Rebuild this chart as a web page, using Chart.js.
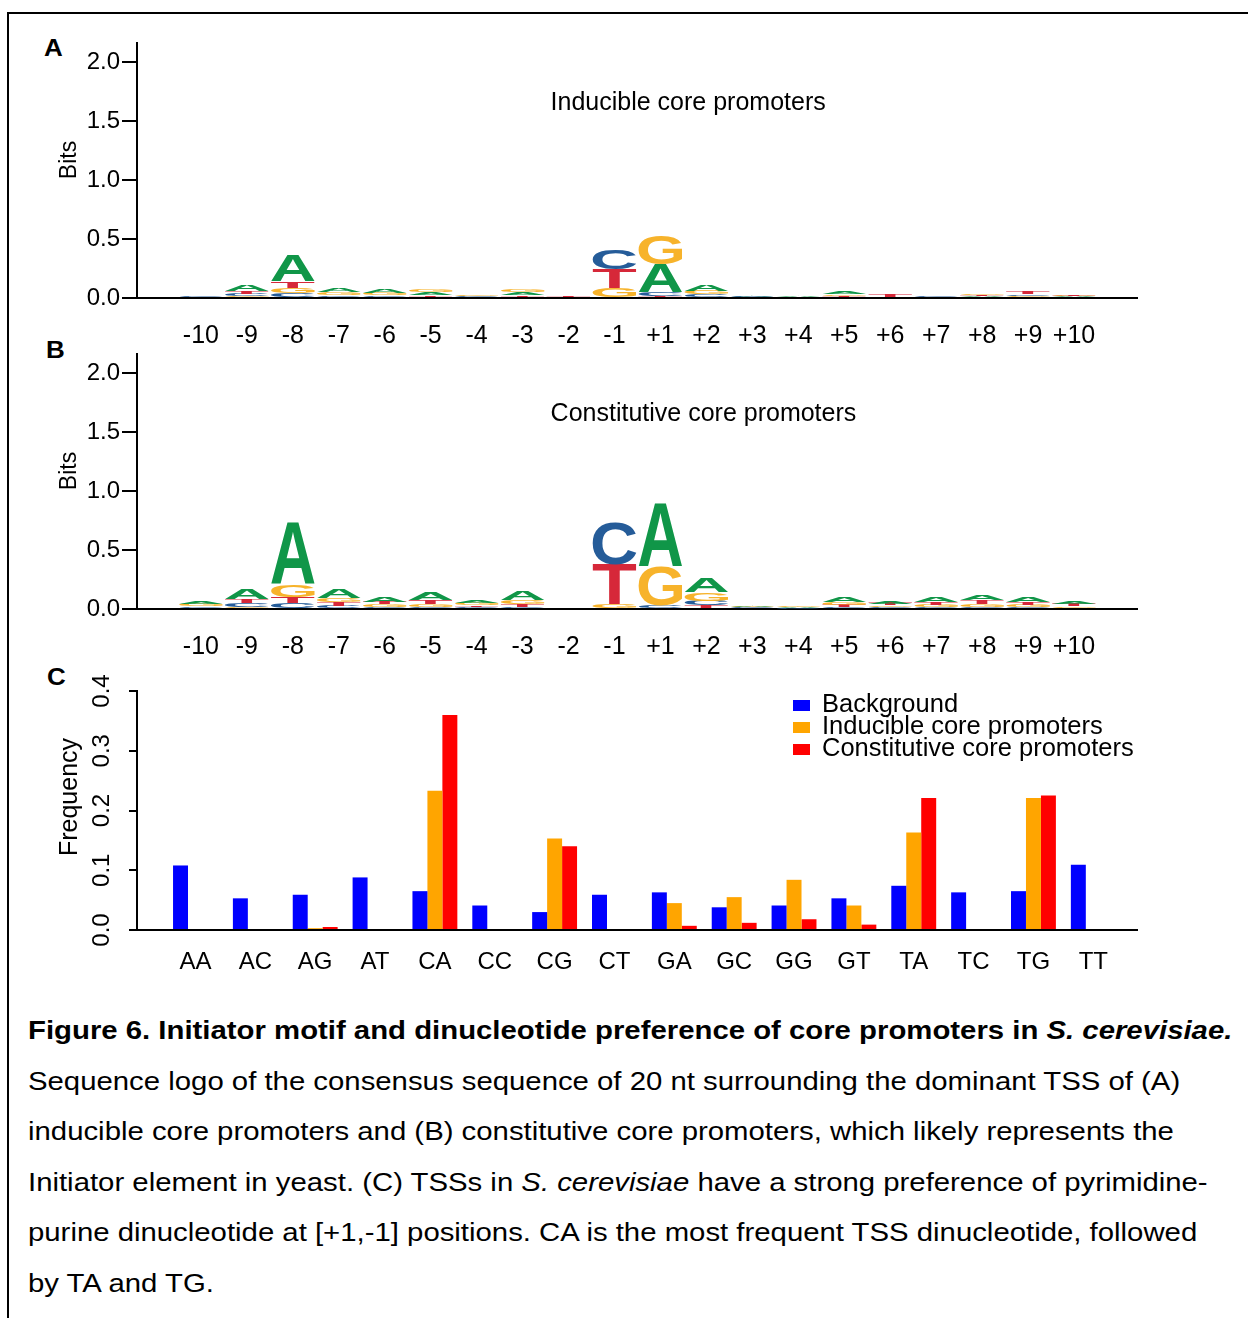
<!DOCTYPE html>
<html>
<head>
<meta charset="utf-8">
<script src="https://cdn.jsdelivr.net/npm/chart.js@4.4.0/dist/chart.umd.min.js"></script>
<style>
  body { margin: 0; background: #fff; width: 1248px; height: 1318px; position: relative; overflow: hidden;
         font-family: "Liberation Sans", Arial, sans-serif; color: #000; }
  #frame { position: absolute; left: 7px; top: 12px; right: 0; bottom: 0; border-left: 2px solid #000; border-top: 2px solid #000; }
  canvas { position: absolute; left: 0; }
  .tag { position: absolute; font-weight: bold; font-size: 23px; line-height: 23px; transform: scaleX(1.13); transform-origin: 0 0; }
  #caption { position: absolute; left: 28px; top: 1005px; font-size: 26px; line-height: 50.6px; white-space: nowrap;
             transform: scaleX(1.128); transform-origin: 0 0; }
</style>
</head>
<body>
<div id="frame"></div>
<div class="tag" style="left:44px;top:37px">A</div>
<div class="tag" style="left:46px;top:339px">B</div>
<div class="tag" style="left:47px;top:666px">C</div>
<canvas id="logoA" width="1248" height="330" style="top:20px"></canvas>
<canvas id="logoB" width="1248" height="330" style="top:331px"></canvas>
<canvas id="bars" width="1248" height="325" style="top:665px"></canvas>
<div id="caption"><b>Figure 6. Initiator motif and dinucleotide preference of core promoters in <i>S. cerevisiae.</i></b><br>Sequence logo of the consensus sequence of 20 nt surrounding the dominant TSS of (A)<br>inducible core promoters and (B) constitutive core promoters, which likely represents the<br>Initiator element in yeast. (C) TSSs in <i>S. cerevisiae</i> have a strong preference of pyrimidine-<br>purine dinucleotide at [+1,-1] positions. CA is the most frequent TSS dinucleotide, followed<br>by TA and TG.</div>

<script>
// positions around the TSS
const positions = ['-10','-9','-8','-7','-6','-5','-4','-3','-2','-1','+1','+2','+3','+4','+5','+6','+7','+8','+9','+10'];
const bases = ['A','C','G','T'];
const baseColors = { A: '#109648', C: '#255C99', G: '#F7B32B', T: '#D62839' };

// information (bits) per base, inducible core promoters
const inducibleA = [0.002,0.050,0.220,0.030,0.028,0.020,0.004,0.020,0.002,0.010,0.235,0.050,0.006,0.012,0.020,0.003,0.002,0.010,0.010,0.008];
const inducibleC = [0.008,0.020,0.040,0.015,0.015,0.012,0.008,0.012,0.002,0.170,0.030,0.020,0.006,0.004,0.005,0.003,0.008,0.006,0.012,0.005];
const inducibleG = [0.002,0.015,0.045,0.020,0.020,0.020,0.014,0.025,0.002,0.075,0.245,0.030,0.003,0.004,0.015,0.004,0.002,0.015,0.010,0.008];
const inducibleT = [0.002,0.022,0.056,0.012,0.010,0.015,0.004,0.015,0.012,0.160,0.020,0.010,0.003,0.002,0.010,0.016,0.002,0.010,0.020,0.008];

// information (bits) per base, constitutive core promoters
const constitutiveA = [0.020,0.090,0.520,0.080,0.040,0.060,0.025,0.080,0.002,0.010,0.530,0.120,0.010,0.006,0.040,0.025,0.040,0.045,0.040,0.025];
const constitutiveC = [0.015,0.028,0.048,0.025,0.020,0.020,0.015,0.018,0.002,0.360,0.020,0.040,0.008,0.005,0.015,0.015,0.015,0.020,0.015,0.010];
const constitutiveG = [0.016,0.020,0.100,0.034,0.020,0.025,0.020,0.034,0.002,0.030,0.330,0.070,0.008,0.010,0.025,0.015,0.020,0.025,0.020,0.015];
const constitutiveT = [0.012,0.034,0.056,0.030,0.023,0.028,0.015,0.022,0.002,0.340,0.012,0.030,0.005,0.004,0.020,0.016,0.025,0.030,0.025,0.020];

// dinucleotide frequencies at [-1,+1]
const dinucleotides = ['AA','AC','AG','AT','CA','CC','CG','CT','GA','GC','GG','GT','TA','TC','TG','TT'];
const background   = [0.108,0.053,0.059,0.088,0.065,0.041,0.030,0.059,0.063,0.038,0.041,0.053,0.074,0.063,0.065,0.109];
const inducible    = [0,0,0.003,0,0.233,0,0.153,0,0.045,0.055,0.084,0.041,0.163,0,0.221,0];
const constitutive = [0,0,0.005,0,0.360,0,0.140,0,0.007,0.012,0.018,0.009,0.221,0,0.225,0];
const seriesNames  = ['Background','Inducible core promoters','Constitutive core promoters'];
const seriesColors = ['#0000FF','#FFA500','#FF0000'];

const FONT = '"Liberation Sans", Arial, sans-serif';
Chart.defaults.font.family = FONT;
Chart.defaults.color = '#000';

// one stacked dataset per rank, so the tallest letter of each column sits on top
function logoDatasets(h) {
  const ranks = [[], [], [], []];
  positions.forEach((p, i) => {
    const col = bases.map(b => ({ nt: b, v: h[b][i] })).sort((a, b) => a.v - b.v);
    col.forEach((c, r) => ranks[r].push({ x: i, y: c.v, nt: c.nt }));
  });
  return ranks.map((data, r) => ({
    label: 'rank' + r, data, backgroundColor: 'rgba(0,0,0,0)', borderWidth: 0,
    categoryPercentage: 0.95, barPercentage: 1
  }));
}

function glyphBox(ctx, ch) {
  ctx.font = 'bold 200px ' + FONT;
  const m = ctx.measureText(ch);
  return { l: m.actualBoundingBoxLeft, r: m.actualBoundingBoxRight, a: m.actualBoundingBoxAscent, d: m.actualBoundingBoxDescent };
}

const logoLetters = {
  id: 'logoLetters',
  afterDatasetsDraw(chart) {
    const ctx = chart.ctx;
    chart.data.datasets.forEach((ds, di) => {
      chart.getDatasetMeta(di).data.forEach((el, i) => {
        const p = el.getProps(['x', 'y', 'base', 'width'], true);
        const h = p.base - p.y;
        if (!(h > 0)) return;
        const nt = ds.data[i].nt;
        const g = glyphBox(ctx, nt);
        ctx.save();
        ctx.translate(p.x - p.width / 2, p.y);
        ctx.scale(p.width / (g.l + g.r), h / (g.a + g.d));
        ctx.fillStyle = baseColors[nt];
        ctx.textAlign = 'left';
        ctx.textBaseline = 'alphabetic';
        ctx.fillText(nt, g.l, g.a);
        ctx.restore();
      });
    });
  }
};

const logoText = {
  id: 'logoText',
  afterDraw(chart, args, opts) {
    const ctx = chart.ctx, xs = chart.scales.x, ys = chart.scales.y;
    ctx.save();
    ctx.fillStyle = '#000';
    ctx.font = '25px ' + FONT;
    ctx.textAlign = 'left';
    ctx.textBaseline = 'middle';
    ctx.fillText(opts.title, xs.getPixelForValue(7.61), ys.getPixelForValue(1.65));
    ctx.font = '23px ' + FONT;
    ctx.translate(70, chart.chartArea.top + 117);
    ctx.rotate(-Math.PI / 2);
    ctx.textAlign = 'center';
    ctx.fillText('Bits', 0, 0);
    ctx.restore();
  }
};

function makeLogo(id, heights, title) {
  new Chart(document.getElementById(id), {
    type: 'bar',
    data: { datasets: logoDatasets(heights) },
    plugins: [logoLetters, logoText],
    options: {
      responsive: false, animation: false, devicePixelRatio: 1,
      layout: { padding: { left: 55, top: 23, right: 111, bottom: 0 } },
      plugins: { legend: { display: false }, tooltip: { enabled: false }, logoText: { title } },
      scales: {
        x: {
          type: 'linear', stacked: true, offset: false, min: -1.39, max: 20.37,
          afterBuildTicks: s => { s.ticks = positions.map((p, i) => ({ value: i })); },
          afterFit: s => { s.height = 52; },
          grid: { display: false },
          border: { display: true, color: '#000', width: 2 },
          ticks: { autoSkip: false, maxRotation: 0, padding: 15, font: { size: 25 },
                   callback: v => positions[v] }
        },
        y: {
          stacked: true, min: 0, max: 2.16,
          afterFit: s => { s.width = 82; },
          grid: { drawOnChartArea: false, drawTicks: true, tickLength: 15, color: '#000', lineWidth: 2 },
          border: { display: true, color: '#000', width: 2 },
          ticks: { stepSize: 0.5, includeBounds: false, padding: 2, font: { size: 24 },
                   callback: v => v.toFixed(1) }
        }
      }
    }
  });
}

makeLogo('logoA', { A: inducibleA, C: inducibleC, G: inducibleG, T: inducibleT }, 'Inducible core promoters');
makeLogo('logoB', { A: constitutiveA, C: constitutiveC, G: constitutiveG, T: constitutiveT }, 'Constitutive core promoters');

const barText = {
  id: 'barText',
  afterDraw(chart) {
    const ctx = chart.ctx, ys = chart.scales.y, area = chart.chartArea;
    ctx.save();
    ctx.fillStyle = '#000';
    ctx.font = '24px ' + FONT;
    ctx.textAlign = 'center';
    ctx.textBaseline = 'middle';
    ys.ticks.forEach(t => {
      ctx.save();
      ctx.translate(102, ys.getPixelForValue(t.value));
      ctx.rotate(-Math.PI / 2);
      ctx.fillText(t.value.toFixed(1), 0, 0);
      ctx.restore();
    });
    ctx.save();
    ctx.font = '25px ' + FONT;
    ctx.translate(70, area.top + 106);
    ctx.rotate(-Math.PI / 2);
    ctx.fillText('Frequency', 0, 0);
    ctx.restore();
    // legend
    ctx.font = '25.5px ' + FONT;
    ctx.textAlign = 'left';
    chart.data.datasets.forEach((ds, i) => {
      const y = area.top + 14 + i * 22;
      ctx.fillStyle = ds.backgroundColor;
      ctx.fillRect(area.left + 656, y - 5, 17, 11);
      ctx.fillStyle = '#000';
      ctx.fillText(ds.label, area.left + 685, y);
    });
    ctx.restore();
  }
};

new Chart(document.getElementById('bars'), {
  type: 'bar',
  data: {
    datasets: [background, inducible, constitutive].map((vals, k) => ({
      label: seriesNames[k],
      data: vals.map((v, i) => ({ x: i, y: v })),
      backgroundColor: seriesColors[k],
      borderWidth: 0,
      categoryPercentage: 0.75, barPercentage: 1
    }))
  },
  plugins: [barText],
  options: {
    responsive: false, animation: false, devicePixelRatio: 1,
    layout: { padding: { left: 55, top: 26, right: 111, bottom: 0 } },
    plugins: { legend: { display: false }, tooltip: { enabled: false } },
    scales: {
      x: {
        type: 'linear', offset: false, min: -0.977, max: 15.73,
        afterBuildTicks: s => { s.ticks = dinucleotides.map((d, i) => ({ value: i })); },
        afterFit: s => { s.height = 60; },
        grid: { display: false },
        border: { display: true, color: '#000', width: 2 },
        ticks: { autoSkip: false, maxRotation: 0, padding: 10, font: { size: 24 },
                 callback: v => dinucleotides[v] }
      },
      y: {
        min: 0, max: 0.4,
        afterFit: s => { s.width = 82; },
        grid: { drawOnChartArea: false, drawTicks: true, tickLength: 8, color: '#000', lineWidth: 2 },
        border: { display: true, color: '#000', width: 2 },
        ticks: { stepSize: 0.1, display: false }
      }
    }
  }
});
</script>
</body>
</html>
